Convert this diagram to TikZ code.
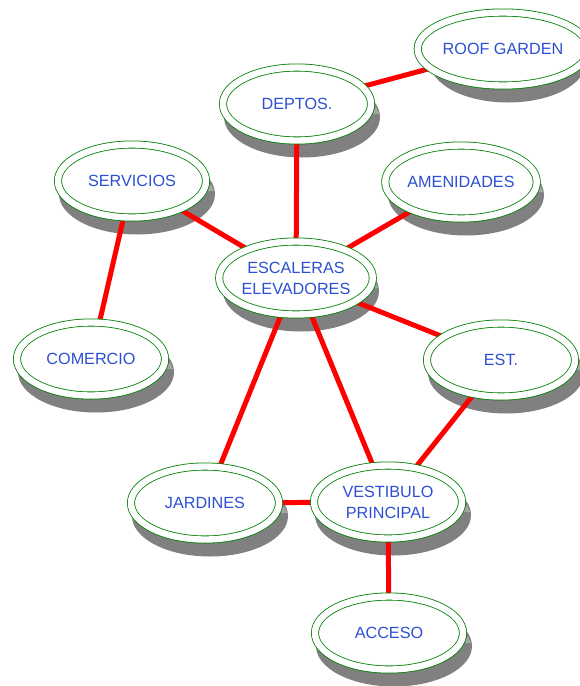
\documentclass[tikz,border=0pt]{standalone}
\usepackage{fontspec}
\setmainfont{Liberation Sans}
\usetikzlibrary{shapes.geometric,calc}
\pgfdeclarelayer{shadowlayer}
\pgfdeclarelayer{linklayer}
\pgfsetlayers{shadowlayer,linklayer,main}
\definecolor{topicblue}{RGB}{45,80,210}
\definecolor{ringgreen}{RGB}{0,128,0}
\definecolor{linkred}{RGB}{255,0,0}
\definecolor{shadowgray}{RGB}{128,128,128}
\definecolor{markgray}{RGB}{165,165,165}
\tikzset{
  topic/.style={ellipse, fill=white, draw=ringgreen, line width=0.8pt,
    double=white, double distance=6.4pt, minimum width=148pt,
    minimum height=73pt, inner sep=0pt, text=topicblue,
    font=\fontsize{16.2}{21}\selectfont, align=center},
  link/.style={linkred, line width=5pt},
}
% grey drop shadow with the small marker on its right side
\newcommand\topicshadow[1]{%
  \fill[shadowgray] ($(#1.center)+(5,13)$) ellipse [x radius=78pt, y radius=40.5pt];
  \fill[markgray] ($(#1.center)+(79,3)$) -- ++(-4,7) -- ++(7,0) -- cycle;
}
\begin{document}
\begin{tikzpicture}[x=1pt,y=-1pt]
  \useasboundingbox (0,0) rectangle (579,686);

  \node[topic] (roof)   at (503,49)  {ROOF GARDEN};
  \node[topic] (deptos) at (297,104) {DEPTOS.};
  \node[topic] (serv)   at (132,181) {SERVICIOS};
  \node[topic] (amen)   at (461,182) {AMENIDADES};
  \node[topic] (esc)    at (296,278) {ESCALERAS\\ELEVADORES};
  \node[topic] (comer)  at (91,359)  {COMERCIO};
  \node[topic] (est)    at (501,360) {EST.};
  \node[topic] (jard)   at (205,503) {JARDINES};
  \node[topic] (vest)   at (388,502) {VESTIBULO\\PRINCIPAL};
  \node[topic] (acceso) at (389,633) {ACCESO};

  \begin{pgfonlayer}{shadowlayer}
    \foreach \n in {roof,deptos,serv,amen,esc,comer,est,jard,vest,acceso}{
      \topicshadow{\n}
    }
  \end{pgfonlayer}

  \begin{pgfonlayer}{linklayer}
    \draw[link] (deptos.center) -- (roof.center);
    \draw[link] (deptos.center) -- (esc.center);
    \draw[link] (serv.center) -- (esc.center);
    \draw[link] (amen.center) -- (esc.center);
    \draw[link] (serv.center) -- (comer.center);
    \draw[link] (esc.center) -- (est.center);
    \draw[link] (esc.center) -- (jard.center);
    \draw[link] (esc.center) -- (vest.center);
    \draw[link] (est.center) -- (vest.center);
    \draw[link] (jard.center) -- (vest.center);
    \draw[link] (vest.center) -- (acceso.center);
  \end{pgfonlayer}
\end{tikzpicture}
\end{document}
